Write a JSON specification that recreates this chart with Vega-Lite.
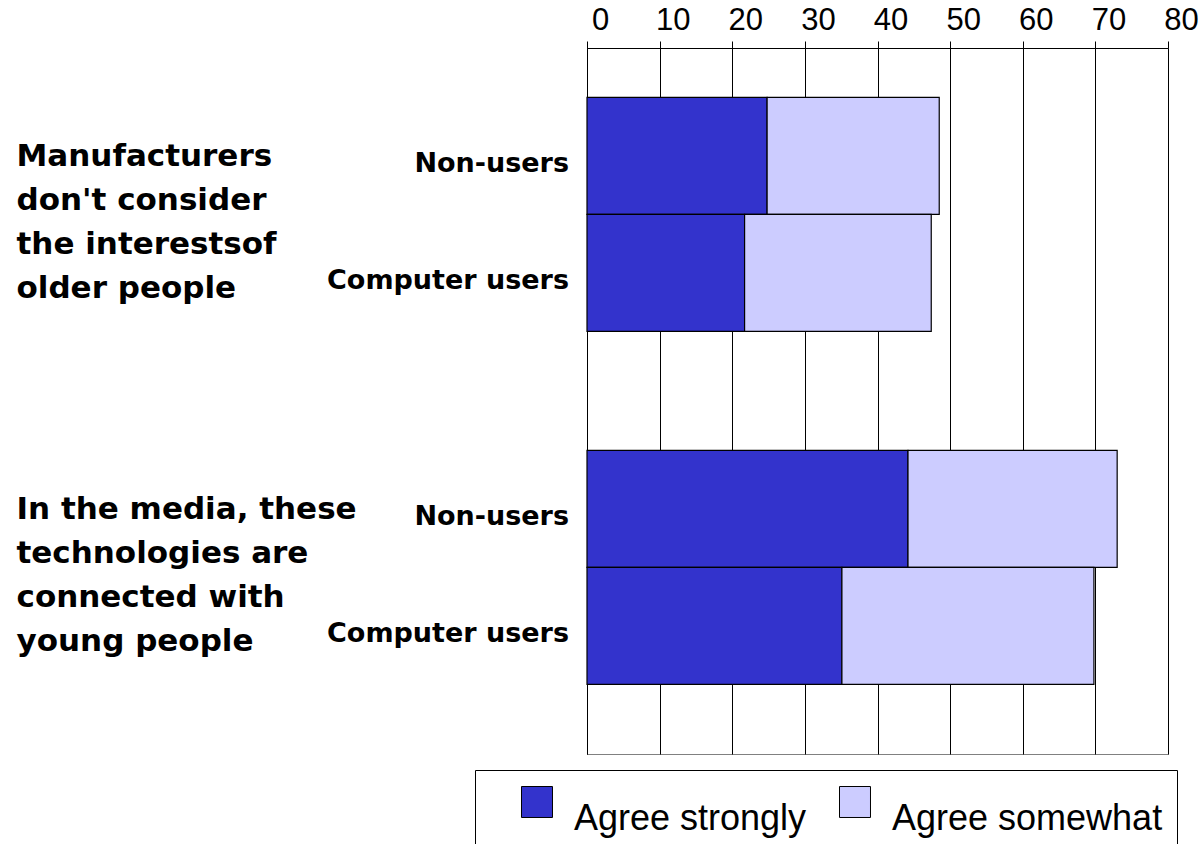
{
  "$schema": "https://vega.github.io/schema/vega-lite/v6.json",
  "autosize": {"type": "none"},
  "padding": {"left": 587, "top": 48, "right": 35, "bottom": 90},
  "width": 581,
  "height": 706,
  "background": "white",
  "config": {
    "view": {"stroke": "#808080", "strokeWidth": 1},
    "font": "DejaVu Sans"
  },
  "data": {
    "values": [
      {"group": "Manufacturers\ndon't consider\nthe interestsof\nolder people", "user": "Non-users", "response": "Agree strongly", "pct": 24.8},
      {"group": "Manufacturers\ndon't consider\nthe interestsof\nolder people", "user": "Non-users", "response": "Agree somewhat", "pct": 23.7},
      {"group": "Manufacturers\ndon't consider\nthe interestsof\nolder people", "user": "Computer users", "response": "Agree strongly", "pct": 21.7},
      {"group": "Manufacturers\ndon't consider\nthe interestsof\nolder people", "user": "Computer users", "response": "Agree somewhat", "pct": 25.7},
      {"group": "In the media, these\ntechnologies are\nconnected with\nyoung people", "user": "Non-users", "response": "Agree strongly", "pct": 44.2},
      {"group": "In the media, these\ntechnologies are\nconnected with\nyoung people", "user": "Non-users", "response": "Agree somewhat", "pct": 28.8},
      {"group": "In the media, these\ntechnologies are\nconnected with\nyoung people", "user": "Computer users", "response": "Agree strongly", "pct": 35.1},
      {"group": "In the media, these\ntechnologies are\nconnected with\nyoung people", "user": "Computer users", "response": "Agree somewhat", "pct": 34.7}
    ]
  },
  "encoding": {
    "y": {
      "field": "group", "type": "nominal", "sort": null,
      "scale": {"paddingInner": 0.337, "paddingOuter": 0.1686, "align": 0.415},
      "axis": {
        "title": null, "ticks": false, "domainColor": "black", "domainWidth": 1,
        "labelExpr": "split(datum.label, '\\n')",
        "labelAlign": "left", "labelBaseline": "middle", "labelPadding": 571,
        "labelOffset": -57,
        "labelLimit": 0, "labelFont": "DejaVu Sans", "labelFontWeight": "bold",
        "labelFontSize": 31, "labelLineHeight": 44, "labelColor": "black"
      }
    },
    "yOffset": {
      "field": "user", "type": "nominal", "sort": ["Non-users", "Computer users"],
      "scale": {"paddingInner": 0, "paddingOuter": 0}
    }
  },
  "layer": [
    {
      "mark": {"type": "bar", "stroke": "black", "strokeWidth": 1.2},
      "encoding": {
        "x": {
          "field": "pct", "type": "quantitative", "stack": "zero",
          "scale": {"domain": [0, 80], "nice": false},
          "axis": {
            "orient": "top", "title": null, "values": [0, 10, 20, 30, 40, 50, 60, 70, 80],
            "grid": true, "gridColor": "black", "gridOpacity": 1, "gridWidth": 1,
            "domainColor": "black", "domainWidth": 1,
            "tickColor": "black", "tickSize": 7,
            "labelFont": "Liberation Sans", "labelFontSize": 31, "labelColor": "black",
            "labelPadding": 5, "labelOffset": 13, "labelFlush": false
          }
        },
        "color": {
          "field": "response", "type": "nominal",
          "scale": {"domain": ["Agree strongly", "Agree somewhat"], "range": ["#3333CC", "#CCCCFF"]},
          "legend": {
            "orient": "none", "legendX": -112, "legendY": 722,
            "direction": "horizontal", "columns": 2,
            "title": "\u00a0", "titleOrient": "left", "titleFontSize": 32, "titlePadding": 30,
            "strokeColor": "black", "fillColor": "white", "padding": 14,
            "symbolType": "square", "symbolSize": 960, "symbolStrokeColor": "black", "symbolStrokeWidth": 1,
            "labelFont": "Liberation Sans", "labelFontSize": 36, "labelColor": "black",
            "labelBaseline": "top",
            "labelOffset": 19, "columnPadding": 30, "labelLimit": 0
          }
        },
        "order": {"field": "response", "sort": "descending"}
      }
    },
    {
      "transform": [{"filter": "datum.response == 'Agree strongly'"}],
      "mark": {"type": "text", "align": "right", "baseline": "middle", "dx": -18, "dy": 8, "font": "DejaVu Sans", "fontWeight": "bold", "fontSize": 27, "color": "black"},
      "encoding": {
        "x": {"datum": 0, "type": "quantitative"},
        "text": {"field": "user"}
      }
    }
  ]
}
